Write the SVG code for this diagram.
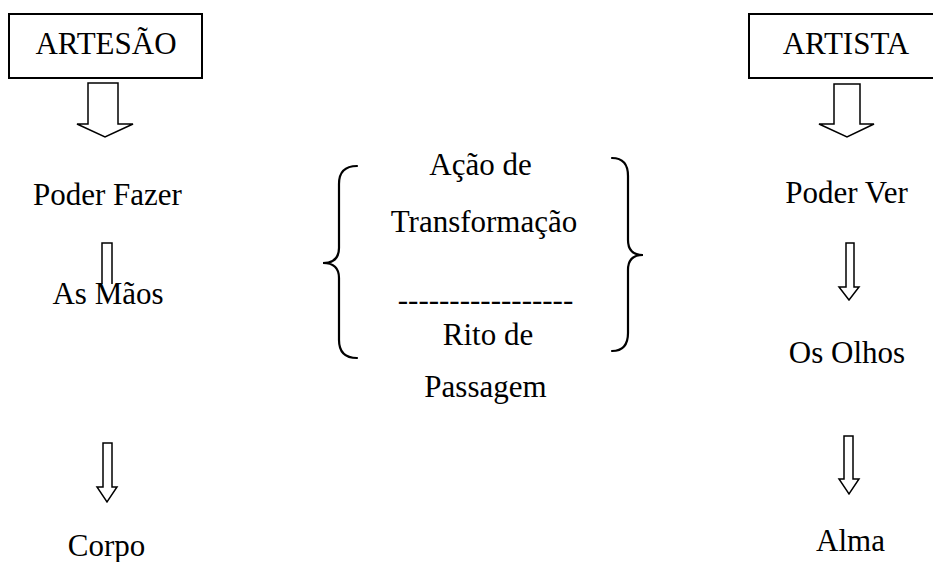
<svg xmlns="http://www.w3.org/2000/svg" width="933" height="562" viewBox="0 0 933 562">
<style>
text{font-family:'Liberation Serif','Times New Roman',serif;font-size:31px;fill:#000;text-anchor:middle}
.box{fill:#fff;stroke:#000;stroke-width:2}
.arrow{fill:#fff;stroke:#000;stroke-width:1.5;stroke-linejoin:miter}
.brace{fill:none;stroke:#000;stroke-width:2.2;stroke-linecap:round}
</style>
<rect x="0" y="0" width="933" height="562" fill="#fff"/>
<g id="connectors">
<polygon class="arrow" points="88,83 118,83 118,124 133,124 105,137 77,124 88,124"/>
<polygon class="arrow" points="102,243 112,243 112,287 117,287 107,300 97,287 102,287"/>
<polygon class="arrow" points="103,443 112,443 112,487 117,487 107,502 97,487 103,487"/>
<polygon class="arrow" points="834,84 860,84 860,124 874,124 847,137 819,124 834,124"/>
<polygon class="arrow" points="846,243 854,243 854,287 859,287 849,300 839,287 846,287"/>
<polygon class="arrow" points="844,436 853,436 853,479 859,479 849,494 839,479 844,479"/>
</g>
<g id="artesao">
<rect class="box" x="9" y="14" width="193" height="64"/>
<text x="106" y="54">ARTESÃO</text>
</g>
<g id="poder-fazer"><text x="107.5" y="205">Poder Fazer</text></g>
<g id="as-maos">
<rect x="50" y="284" width="118" height="26" fill="#fff"/>
<text x="108" y="304">As Mãos</text>
</g>
<g id="corpo"><text x="106.5" y="556">Corpo</text></g>
<g id="artista">
<rect class="box" x="749" y="14" width="200" height="64"/>
<text x="846" y="54">ARTISTA</text>
</g>
<g id="poder-ver"><text x="846.5" y="203">Poder Ver</text></g>
<g id="os-olhos"><text x="847" y="363">Os Olhos</text></g>
<g id="alma"><text x="850.5" y="551">Alma</text></g>
<g id="centro">
<path class="brace" d="M357,166 Q339,166 339,184 L339,248 Q339,263 323,263 Q339,263 339,278 L339,340 Q339,358 357,358"/>
<path class="brace" d="M612,158 Q628,158 628,176 L628,240 Q628,255 643,255 Q628,255 628,270 L628,333 Q628,351 612,351"/>
<text x="480.5" y="175">Ação de</text>
<text x="484" y="232">Transformação</text>
<text x="485.5" y="310">-----------------</text>
<text x="488" y="345">Rito de</text>
<text x="485.5" y="397">Passagem</text>
</g>
</svg>
